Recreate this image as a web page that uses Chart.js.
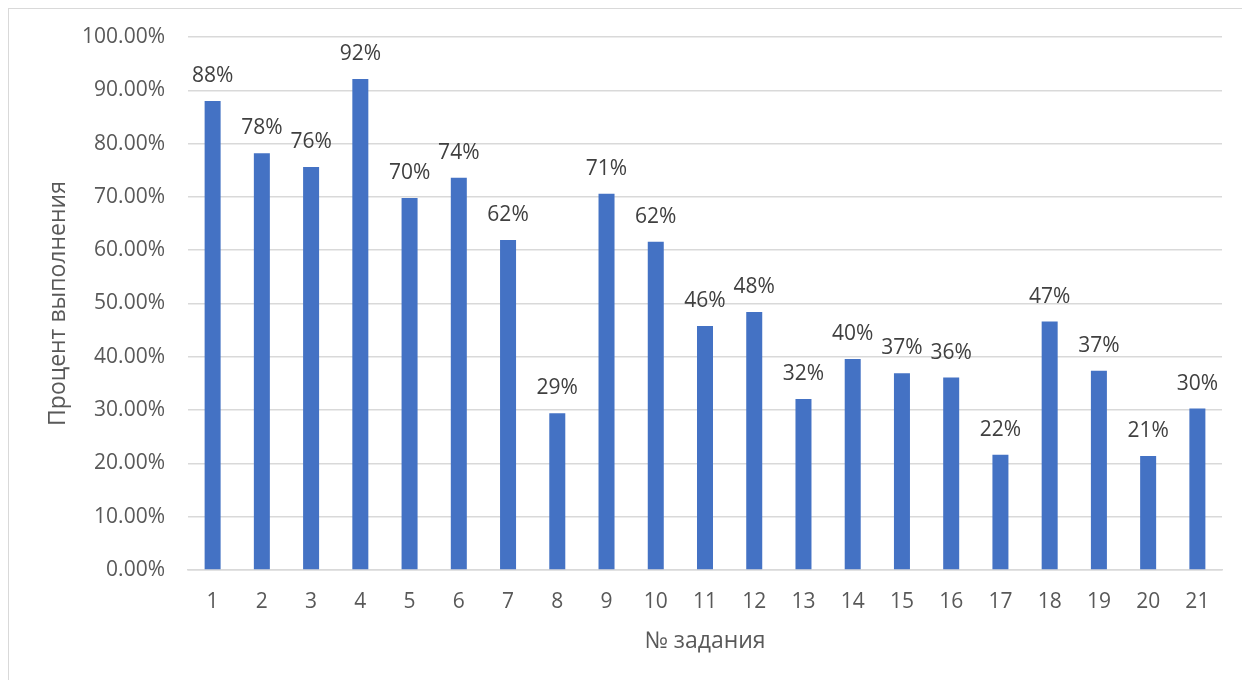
<!DOCTYPE html>
<html lang="ru">
<head>
<meta charset="utf-8">
<title>Процент выполнения заданий</title>
<script src="https://cdn.jsdelivr.net/npm/chart.js@4.4.1/dist/chart.umd.min.js"></script>
<style>
  html, body { margin: 0; padding: 0; background: #ffffff; overflow: hidden; }
  #frame {
    position: absolute; left: 8px; top: 8px; width: 1260px; height: 700px;
    border: 1.5px solid #d9d9d9; box-sizing: border-box;
  }
  #wrap { position: absolute; left: 0; top: 0; width: 1242px; height: 680px; }
</style>
</head>
<body>
<div id="frame"></div>
<div id="wrap"><canvas id="chart" width="1242" height="680"></canvas></div>
<script>
// Task numbers along the x axis
const tasks = ['1','2','3','4','5','6','7','8','9','10','11','12','13','14','15','16','17','18','19','20','21'];
// Completion rate per task, percent
const completion = [88.0, 78.2, 75.6, 92.1, 69.8, 73.6, 61.9, 29.4, 70.6, 61.6, 45.8, 48.4, 32.1, 39.6, 36.9, 36.1, 21.6, 46.6, 37.4, 21.4, 30.3];
// Value axis range and step
const yMin = 0, yMax = 100, yStep = 10;

const FONT = '"Open Sans", "Liberation Sans", sans-serif';

// Draws the rounded value above every bar
const valueLabels = {
  id: 'valueLabels',
  afterDatasetsDraw(chart) {
    const ctx = chart.ctx;
    const meta = chart.getDatasetMeta(0);
    ctx.save();
    ctx.font = '21px ' + FONT;
    ctx.fillStyle = '#404040';
    ctx.textAlign = 'center';
    ctx.textBaseline = 'alphabetic';
    meta.data.forEach((bar, i) => {
      const v = chart.data.datasets[0].data[i];
      ctx.fillText(Math.round(v) + '%', bar.x, bar.y - 19);
    });
    ctx.restore();
  }
};

new Chart(document.getElementById('chart'), {
  type: 'bar',
  data: {
    labels: tasks,
    datasets: [{
      data: completion,
      backgroundColor: '#4472C4',
      borderWidth: 0,
      categoryPercentage: 0.65,
      barPercentage: 0.5
    }]
  },
  options: {
    responsive: false,
    animation: false,
    devicePixelRatio: 1,
    layout: { padding: { left: 0, right: 20, top: 37, bottom: 0 } },
    plugins: { legend: { display: false }, tooltip: { enabled: false } },
    scales: {
      x: {
        grid: { display: false, drawTicks: false },
        border: { display: true, color: '#d9d9d9', width: 1.5 },
        ticks: { color: '#595959', font: { family: FONT, size: 21 }, padding: 19, maxRotation: 0, autoSkip: false },
        title: { display: true, text: '№ задания', color: '#595959', font: { family: FONT, size: 23 }, padding: { top: 0, bottom: 25 } },
        afterFit(scale) { scale.height = 110; }
      },
      y: {
        min: yMin, max: yMax,
        grid: { color: '#d9d9d9', lineWidth: 1.5, drawTicks: false },
        border: { display: false },
        ticks: {
          stepSize: yStep,
          color: '#595959',
          font: { family: FONT, size: 21 },
          padding: 23,
          callback: v => v.toFixed(2) + '%'
        },
        title: { display: true, text: 'Процент выполнения', color: '#595959', font: { family: FONT, size: 23 }, padding: { top: 45, bottom: 0 } },
        afterFit(scale) { scale.width = 188; }
      }
    }
  },
  plugins: [valueLabels]
});
</script>
</body>
</html>
